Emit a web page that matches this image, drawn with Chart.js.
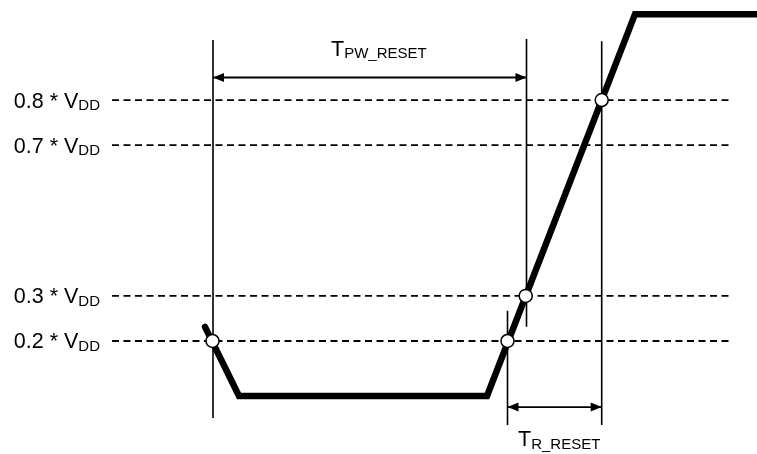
<!DOCTYPE html>
<html>
<head>
<meta charset="utf-8">
<script src="https://cdn.jsdelivr.net/npm/chart.js@4.4.0/dist/chart.umd.min.js"></script>
<style>
html, body { margin: 0; padding: 0; background: #fff; }
#wrap { width: 757px; height: 454px; position: relative; }
</style>
</head>
<body>
<div id="wrap"><canvas id="timing"></canvas></div>
<script>
// levels in diagram units: 0 = low rail, 100 = high rail (drawing is not to scale)
const levelNames = ['0.8 * V', '0.7 * V', '0.3 * V', '0.2 * V'];
const levelSub = 'DD';
const levelValues = [77.5, 65.7, 26.2, 14.4];
const levelStart = 112;
const levelEnd = 733;

// reset waveform (time, level)
const waveTimes = [205, 239, 487, 635, 770];
const waveLevels = [18.1, 0, 0, 100, 100];

// threshold crossings marked with circles
const crossTimes = [212.5, 507.5, 525.7, 601.7];
const crossLevels = [14.4, 14.4, 26.2, 77.5];

// vertical marker lines: time, top, bottom
const markTimes = [213, 526.5, 507.5, 601.7];
const markTops = [93.2, 93.5, 22.3, 92.9];
const markBottoms = [-5.8, 18.1, -7.6, -7.6];

// timing arrows
const spanNames = ['T', 'T'];
const spanSubs = ['PW_RESET', 'R_RESET'];
const spanFrom = [213, 507.5];
const spanTo = [526.5, 601.7];
const spanLevels = [83.4, -2.9];

const FONT = "'Liberation Sans', Arial, Helvetica, sans-serif";

const datasets = [];

levelValues.forEach((v, i) => {
    datasets.push({
        label: levelNames[i],
        data: [{x: levelStart, y: v}, {x: levelEnd, y: v}],
        borderColor: '#000',
        borderWidth: 1.8,
        borderDash: [7, 4.5],
        pointRadius: 0,
        order: 4
    });
});

markTimes.forEach((t, i) => {
    datasets.push({
        label: 'mark' + i,
        data: [{x: t, y: markTops[i]}, {x: t, y: markBottoms[i]}],
        borderColor: '#000',
        borderWidth: 1.6,
        pointRadius: 0,
        order: 3
    });
});

spanFrom.forEach((t, i) => {
    datasets.push({
        label: spanNames[i] + spanSubs[i],
        data: [{x: t, y: spanLevels[i]}, {x: spanTo[i], y: spanLevels[i]}],
        borderColor: '#000',
        borderWidth: 1.8,
        pointRadius: 0,
        arrows: true,
        order: 3
    });
});

datasets.push({
    label: 'reset',
    data: waveTimes.map((t, i) => ({x: t, y: waveLevels[i]})),
    borderColor: '#000',
    borderWidth: 6.5,
    borderJoinStyle: 'miter',
    borderCapStyle: 'round',
    pointRadius: 0,
    order: 1
});

datasets.push({
    label: 'crossings',
    data: crossTimes.map((t, i) => ({x: t, y: crossLevels[i]})),
    showLine: false,
    pointRadius: 6.5,
    pointBackgroundColor: '#fff',
    pointBorderColor: '#000',
    pointBorderWidth: 1.5,
    order: 0
});

// arrowheads at both ends of span lines
const arrowHeads = {
    id: 'arrowHeads',
    afterDatasetsDraw(chart) {
        const ctx = chart.ctx;
        chart.data.datasets.forEach((ds, i) => {
            if (!ds.arrows) return;
            const pts = chart.getDatasetMeta(i).data;
            const a = pts[0], b = pts[1];
            const len = 11, half = 4.5;
            ctx.save();
            ctx.fillStyle = '#000';
            ctx.beginPath();
            ctx.moveTo(a.x, a.y);
            ctx.lineTo(a.x + len, a.y - half);
            ctx.lineTo(a.x + len, a.y + half);
            ctx.closePath();
            ctx.moveTo(b.x, b.y);
            ctx.lineTo(b.x - len, b.y - half);
            ctx.lineTo(b.x - len, b.y + half);
            ctx.closePath();
            ctx.fill();
            ctx.restore();
        });
    }
};

const MAIN_PX = 21.5, SUB_PX = 15;

function subText(ctx, x, y, main, sub, subDrop, align) {
    ctx.font = MAIN_PX + 'px ' + FONT;
    const w1 = ctx.measureText(main).width;
    ctx.font = SUB_PX + 'px ' + FONT;
    const w2 = ctx.measureText(sub).width;
    let left = x;
    if (align === 'right') left = x - w1 - w2;
    ctx.font = MAIN_PX + 'px ' + FONT;
    ctx.fillText(main, left, y);
    ctx.font = SUB_PX + 'px ' + FONT;
    ctx.fillText(sub, left + w1, y + subDrop);
}

const labels = {
    id: 'labels',
    afterDraw(chart) {
        const ctx = chart.ctx;
        const xs = chart.scales.x, ys = chart.scales.y;
        ctx.save();
        ctx.fillStyle = '#000';
        ctx.textAlign = 'left';
        ctx.textBaseline = 'alphabetic';
        levelValues.forEach((v, i) => {
            subText(ctx, xs.getPixelForValue(levelStart) - 12, ys.getPixelForValue(v) + 7.5,
                levelNames[i], levelSub, 2.2, 'right');
        });
        // span captions
        subText(ctx, 331, ys.getPixelForValue(spanLevels[0]) - 22, spanNames[0], spanSubs[0], 2.5, 'left');
        subText(ctx, 518, ys.getPixelForValue(spanLevels[1]) + 39, spanNames[1], spanSubs[1], 2.5, 'left');
        ctx.restore();
    }
};

new Chart(document.getElementById('timing'), {
    type: 'line',
    data: { datasets },
    options: {
        responsive: true,
        maintainAspectRatio: false,
        animation: false,
        layout: { padding: 0, autoPadding: false },
        scales: {
            x: { type: 'linear', min: 0, max: 757, display: false },
            y: { type: 'linear', min: -15.2, max: 103.7, display: false }
        },
        plugins: {
            legend: { display: false },
            tooltip: { enabled: false }
        },
        elements: { line: { tension: 0 } }
    },
    plugins: [arrowHeads, labels]
});
</script>
</body>
</html>
